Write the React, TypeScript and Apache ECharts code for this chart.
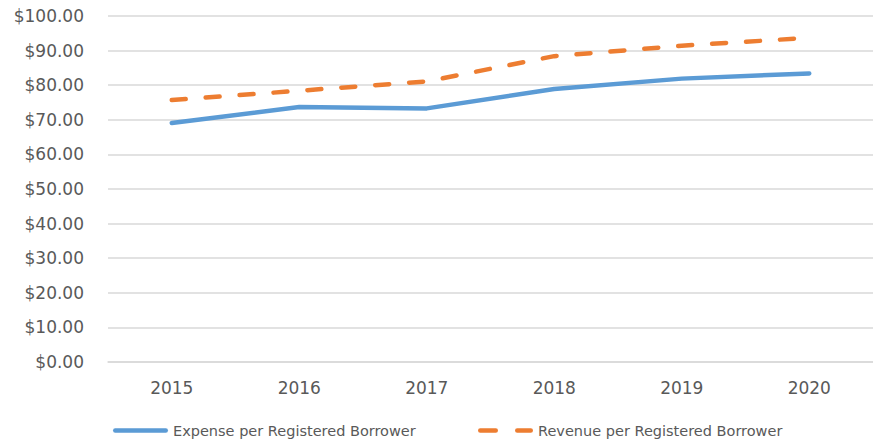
import React, { useEffect, useRef } from "react";
import * as echarts from "echarts";

const years = ["2015", "2016", "2017", "2018", "2019", "2020"];
const expensePerBorrower = [69.1, 73.7, 73.3, 78.9, 81.9, 83.4];
const revenuePerBorrower = [75.7, 78.4, 81.1, 88.4, 91.4, 93.7];
const expenseName = "Expense per Registered Borrower";
const revenueName = "Revenue per Registered Borrower";

const FONT = "DejaVu Sans";
const TEXT = "#595959";

const solidIcon =
  "path://M2.25,0 H52.75 A2.25,2.25 0 0 1 52.75,4.5 H2.25 A2.25,2.25 0 0 1 2.25,0 Z";
const dashIcon =
  "path://M2.25,0 H17.75 A2.25,2.25 0 0 1 17.75,4.5 H2.25 A2.25,2.25 0 0 1 2.25,0 Z " +
  "M39.25,0 H52.75 A2.25,2.25 0 0 1 52.75,4.5 H39.25 A2.25,2.25 0 0 1 39.25,0 Z";

export default function App() {
  const ref = useRef<HTMLDivElement>(null);
  useEffect(() => {
    document.body.style.margin = "0";
    const chart = echarts.init(ref.current!, null, { renderer: "svg" });
    chart.setOption({
      animation: false,
      backgroundColor: "#ffffff",
      grid: { left: 108, right: 0, top: 16, bottom: 78, containLabel: false },
      legend: [
        {
          data: [{ name: expenseName, icon: solidIcon }],
          left: 108,
          top: 418,
          itemWidth: 55,
          itemHeight: 4.5,
          itemStyle: { borderWidth: 0 },
          textStyle: { color: TEXT, fontFamily: FONT, fontSize: 14.5 },
        },
        {
          data: [{ name: revenueName, icon: dashIcon }],
          left: 473,
          top: 418,
          itemWidth: 55,
          itemHeight: 4.5,
          itemStyle: { borderWidth: 0 },
          textStyle: { color: TEXT, fontFamily: FONT, fontSize: 14.5 },
        },
      ],
      xAxis: {
        type: "category",
        data: years,
        boundaryGap: true,
        axisLine: { show: true, lineStyle: { color: "#d9d9d9", width: 1.5 } },
        axisTick: { show: false },
        axisLabel: { color: TEXT, fontFamily: FONT, fontSize: 17, margin: 17 },
      },
      yAxis: {
        type: "value",
        min: 0,
        max: 100,
        interval: 10,
        axisLine: { show: false },
        axisTick: { show: false },
        axisLabel: {
          color: TEXT,
          fontFamily: FONT,
          fontSize: 17,
          margin: 24,
          formatter: (v: number) => "$" + v.toFixed(2),
        },
        splitLine: { lineStyle: { color: "#d9d9d9", width: 1.5 } },
      },
      series: [
        {
          name: expenseName,
          type: "line",
          data: expensePerBorrower,
          symbol: "none",
          lineStyle: { color: "#5b9bd5", width: 4.5, cap: "round", join: "round" },
          itemStyle: { color: "#5b9bd5" },
        },
        {
          name: revenueName,
          type: "line",
          data: revenuePerBorrower,
          symbol: "none",
          lineStyle: { color: "#ed7d31", width: 4.5, type: [14, 20], cap: "round", join: "round" },
          itemStyle: { color: "#ed7d31" },
        },
      ],
    });
    return () => chart.dispose();
  }, []);
  return <div ref={ref} style={{ width: 873, height: 440, position: "absolute", left: 0, top: 0 }} />;
}
